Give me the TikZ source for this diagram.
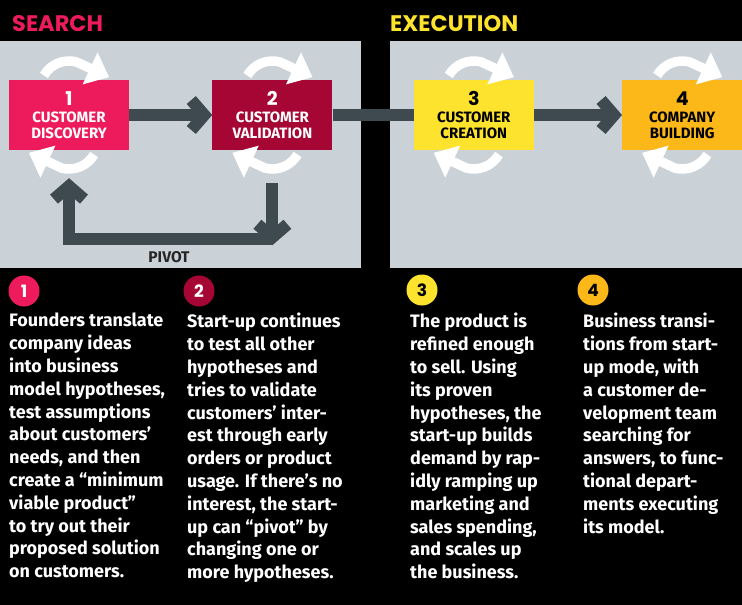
\documentclass[tikz,border=0pt]{standalone}
\usepackage{fontspec}
\setmainfont{Fira Sans}
\newfontfamily\headfont{Poppins}
\usetikzlibrary{positioning,arrows.meta}
\definecolor{hbrpink}{HTML}{EE1B5C}
\definecolor{hbrred}{HTML}{A60633}
\definecolor{hbryellow}{HTML}{FDE32E}
\definecolor{hbrorange}{HTML}{FBB818}
\definecolor{panel}{HTML}{CAD2D8}
\definecolor{slate}{HTML}{3E4A50}
\tikzset{
  stage/.style={minimum width=120pt, minimum height=70pt, inner sep=0pt, align=center,
    font=\bfseries\fontsize{15}{15.5}\selectfont},
  flow/.style={draw=slate, line width=12pt},
  barb/.style={-{Straight Barb[length=13pt,width=30pt,sharp]}},
  spin/.style={draw=white, line width=9.5pt, -{Triangle[length=21pt,width=34pt]}},
  numdot/.style={circle, minimum size=31pt, inner sep=0pt, font=\headfont\bfseries\fontsize{17}{17}\selectfont},
  blurb/.style={anchor=north west, align=left, inner sep=0pt, text=white,
    font=\bfseries\fontsize{18}{22.8}\selectfont},
  phase/.style={anchor=base west, inner sep=0pt, font=\headfont\bfseries\fontsize{22.5}{22.5}\selectfont},
}
\newcommand\spinner[1]{%
  \draw[spin] ([yshift=25pt]#1.center) ++(150:29pt) arc[start angle=150, end angle=75, radius=29pt] -- ++(-25:36pt);
  \draw[spin] ([yshift=-25pt]#1.center) ++(-30:29pt) arc[start angle=-30, end angle=-105, radius=29pt] -- ++(155:36pt);
}
\newcommand\bignum[1]{{\headfont\fontsize{19}{18}\selectfont #1}\\[2pt]}
\begin{document}
\begin{tikzpicture}[x=1pt,y=-1pt]
  \fill[black] (0,0) rectangle (742,605);
  \useasboundingbox (0,0) rectangle (742,605);
  \fill[panel] (0,41) rectangle (361,268);
  \fill[panel] (390,41) rectangle (742,268);
  \node[phase, text=hbrpink] (search) at (12,31) {SEARCH};
  \node[phase, text=hbryellow] (execution) at (390,31) {EXECUTION};

  \node[stage, fill=hbrpink, text=white] (disc) at (69,115) {\bignum{1}CUSTOMER\\DISCOVERY};
  \node[stage, fill=hbrred, text=white, right=83pt of disc] (valid) {\bignum{2}CUSTOMER\\VALIDATION};
  \node[stage, fill=hbryellow, right=81pt of valid] (creat) {\bignum{3}CUSTOMER\\CREATION};
  \node[stage, fill=hbrorange, right=88pt of creat] (build) {\bignum{4}COMPANY\\BUILDING};

  \draw[flow, barb] (disc) -- (valid);
  \draw[flow] (valid) -- (creat);
  \draw[flow, barb] (creat) -- (build);

  \coordinate (pvdown) at ([yshift=-33pt]valid.south);
  \coordinate (pvcorner) at ([yshift=-95pt]valid.south);
  \coordinate (pvup) at ([yshift=-28pt]disc.south);
  \draw[flow, barb] (pvdown) -- (pvcorner);
  \draw[flow, barb] ([yshift=6pt]pvcorner) -| (pvup);
  \node[font=\bfseries\fontsize{15.5}{15.5}\selectfont, text=black!85] (pivot) at (169,257) {PIVOT};

  \spinner{disc}
  \spinner{valid}
  \spinner{creat}
  \spinner{build}

  \node[numdot, fill=hbrpink, text=white] (n1) at (24,291) {1};
  \node[numdot, fill=hbrred, text=white] (n2) at (199,291) {2};
  \node[numdot, fill=hbryellow] (n3) at (422,290) {3};
  \node[numdot, fill=hbrorange] (n4) at (593,290) {4};

  \node[blurb] (t1) at (9,313) {Founders translate\\company ideas\\into business\\model hypotheses,\\test assumptions\\about customers’\\needs, and then\\create a “minimum\\viable product”\\to try out their\\proposed solution\\on customers.};
  \node[blurb] (t2) at (187,313) {Start-up continues\\to test all other\\hypotheses and\\tries to validate\\customers’ inter-\\est through early\\orders or product\\usage. If there’s no\\interest, the start-\\up can “pivot” by\\changing one or\\more hypotheses.};
  \node[blurb] (t3) at (410,313) {The product is\\refined enough\\to sell. Using\\its proven\\hypotheses, the\\start-up builds\\demand by rap-\\idly ramping up\\marketing and\\sales spending,\\and scales up\\the business.};
  \node[blurb] (t4) at (583,313) {Business transi-\\tions from start-\\up mode, with\\a customer de-\\velopment team\\searching for\\answers, to func-\\tional depart-\\ments executing\\its model.};
\end{tikzpicture}
\end{document}
